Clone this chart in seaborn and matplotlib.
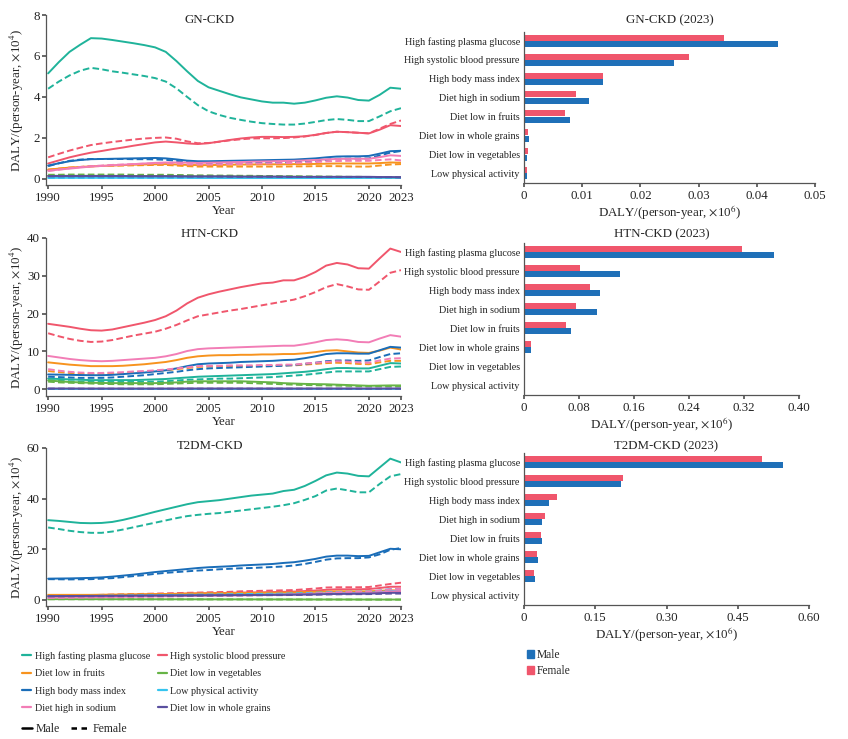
import matplotlib
matplotlib.use("Agg")
import matplotlib.pyplot as plt
from matplotlib.lines import Line2D
from matplotlib.patches import Patch
import pandas as pd
import seaborn as sns

years = list(range(1990, 2024))

risks = ["High fasting plasma glucose", "High systolic blood pressure",
         "Diet low in fruits", "Diet low in vegetables",
         "High body mass index", "Low physical activity",
         "Diet high in sodium", "Diet low in whole grains"]
risk_colors = ["#1fb39a", "#f0566c", "#f7931e", "#66b446",
               "#1a6db8", "#35c4ef", "#f27db6", "#5a4f9f"]

bar_labels = ["High fasting plasma glucose", "High systolic blood pressure",
              "High body mass index", "Diet high in sodium", "Diet low in fruits",
              "Diet low in whole grains", "Diet low in vegetables", "Low physical activity"]

# ---- GN-CKD, DALY x10^4 ----
gn_fpg_m = [5.15, 5.70, 6.20, 6.55, 6.87, 6.85, 6.78, 6.70, 6.62, 6.53,
            6.42, 6.20, 5.75, 5.25, 4.78, 4.47, 4.30, 4.13, 3.98, 3.88,
            3.78, 3.72, 3.72, 3.67, 3.72, 3.83, 3.96, 4.03, 3.97, 3.85,
            3.82, 4.10, 4.45, 4.40]
gn_fpg_f = [4.40, 4.75, 5.05, 5.28, 5.42, 5.35, 5.25, 5.18, 5.10, 5.02,
            4.92, 4.75, 4.42, 4.00, 3.60, 3.30, 3.12, 2.98, 2.88, 2.79,
            2.72, 2.68, 2.65, 2.65, 2.70, 2.78, 2.87, 2.92, 2.88, 2.82,
            2.82, 3.05, 3.30, 3.45]
gn_sbp_m = [0.75, 0.90, 1.05, 1.17, 1.28, 1.36, 1.45, 1.53, 1.62, 1.70,
            1.78, 1.82, 1.78, 1.73, 1.70, 1.74, 1.82, 1.90, 1.97, 2.02,
            2.05, 2.05, 2.04, 2.05, 2.08, 2.15, 2.24, 2.30, 2.28, 2.25,
            2.22, 2.40, 2.62, 2.58]
gn_sbp_f = [1.05, 1.22, 1.38, 1.52, 1.65, 1.73, 1.80, 1.86, 1.92, 1.97,
            2.00, 2.02, 1.96, 1.83, 1.74, 1.75, 1.81, 1.88, 1.93, 1.97,
            1.98, 1.98, 1.99, 2.02, 2.07, 2.14, 2.24, 2.30, 2.28, 2.25,
            2.22, 2.45, 2.68, 2.85]
gn_fru_m = [0.45, 0.50, 0.55, 0.58, 0.61, 0.63, 0.65, 0.67, 0.69, 0.70,
            0.71, 0.72, 0.70, 0.68, 0.67, 0.67, 0.68, 0.69, 0.70, 0.70,
            0.71, 0.71, 0.71, 0.72, 0.72, 0.73, 0.74, 0.75, 0.75, 0.75,
            0.75, 0.77, 0.80, 0.79]
gn_fru_f = [0.45, 0.50, 0.55, 0.58, 0.61, 0.63, 0.64, 0.65, 0.66, 0.67,
            0.68, 0.68, 0.65, 0.62, 0.60, 0.60, 0.60, 0.60, 0.60, 0.60,
            0.60, 0.60, 0.60, 0.61, 0.61, 0.62, 0.62, 0.62, 0.61, 0.60,
            0.60, 0.65, 0.70, 0.72]
gn_veg_m = [0.15, 0.15, 0.15, 0.15, 0.15, 0.15, 0.15, 0.14, 0.14, 0.14,
            0.14, 0.14, 0.13, 0.13, 0.12, 0.12, 0.12, 0.12, 0.11, 0.11,
            0.11, 0.10, 0.10, 0.10, 0.09, 0.09, 0.09, 0.08, 0.08, 0.08,
            0.07, 0.07, 0.06, 0.05]
gn_veg_f = [0.20, 0.20, 0.21, 0.21, 0.21, 0.21, 0.21, 0.21, 0.20, 0.20,
            0.20, 0.20, 0.19, 0.18, 0.17, 0.17, 0.16, 0.16, 0.15, 0.15,
            0.14, 0.14, 0.13, 0.13, 0.12, 0.12, 0.11, 0.11, 0.10, 0.10,
            0.09, 0.09, 0.08, 0.08]
gn_bmi_m = [0.65, 0.76, 0.86, 0.92, 0.96, 0.97, 0.98, 0.99, 1.00, 1.01,
            1.02, 1.00, 0.95, 0.89, 0.86, 0.86, 0.87, 0.88, 0.89, 0.90,
            0.91, 0.92, 0.93, 0.94, 0.97, 1.00, 1.05, 1.09, 1.10, 1.10,
            1.12, 1.23, 1.35, 1.37]
gn_bmi_f = [0.62, 0.76, 0.88, 0.94, 0.97, 0.97, 0.97, 0.97, 0.96, 0.96,
            0.95, 0.93, 0.88, 0.82, 0.78, 0.78, 0.78, 0.79, 0.79, 0.80,
            0.80, 0.81, 0.81, 0.82, 0.85, 0.88, 0.93, 0.98, 0.99, 0.99,
            1.00, 1.14, 1.28, 1.36]
gn_pa_m = [0.05, 0.05, 0.05, 0.05, 0.05, 0.05, 0.05, 0.05, 0.05, 0.05,
           0.05, 0.05, 0.05, 0.05, 0.04, 0.04, 0.04, 0.04, 0.04, 0.04,
           0.04, 0.04, 0.04, 0.04, 0.04, 0.04, 0.04, 0.04, 0.04, 0.04,
           0.05, 0.05, 0.05, 0.05]
gn_pa_f = [0.04, 0.04, 0.04, 0.04, 0.04, 0.04, 0.04, 0.04, 0.04, 0.04,
           0.04, 0.04, 0.04, 0.04, 0.04, 0.04, 0.04, 0.04, 0.04, 0.04,
           0.04, 0.04, 0.04, 0.04, 0.04, 0.04, 0.04, 0.04, 0.04, 0.04,
           0.05, 0.05, 0.05, 0.05]
gn_sod_m = [0.40, 0.45, 0.50, 0.55, 0.60, 0.63, 0.66, 0.69, 0.72, 0.75,
            0.78, 0.80, 0.80, 0.79, 0.78, 0.79, 0.80, 0.81, 0.82, 0.84,
            0.85, 0.86, 0.87, 0.88, 0.90, 0.92, 0.95, 0.97, 0.98, 0.98,
            0.98, 1.06, 1.15, 1.12]
gn_sod_f = [0.38, 0.45, 0.52, 0.58, 0.62, 0.65, 0.68, 0.70, 0.72, 0.74,
            0.75, 0.76, 0.74, 0.71, 0.70, 0.70, 0.71, 0.72, 0.73, 0.74,
            0.75, 0.76, 0.77, 0.78, 0.80, 0.82, 0.85, 0.87, 0.88, 0.88,
            0.88, 0.92, 0.95, 0.90]
gn_wg_m = [0.14, 0.14, 0.14, 0.14, 0.14, 0.14, 0.14, 0.14, 0.13, 0.13,
           0.13, 0.13, 0.13, 0.12, 0.12, 0.12, 0.12, 0.12, 0.11, 0.11,
           0.11, 0.11, 0.11, 0.10, 0.10, 0.10, 0.10, 0.10, 0.10, 0.10,
           0.10, 0.09, 0.09, 0.08]
gn_wg_f = [0.12, 0.12, 0.12, 0.12, 0.12, 0.12, 0.12, 0.12, 0.12, 0.12,
           0.12, 0.12, 0.11, 0.11, 0.11, 0.11, 0.11, 0.10, 0.10, 0.10,
           0.10, 0.10, 0.09, 0.09, 0.09, 0.09, 0.09, 0.09, 0.09, 0.09,
           0.09, 0.08, 0.08, 0.07]

# ---- HTN-CKD, DALY x10^4 ----
htn_fpg_m = [2.8, 2.7, 2.6, 2.5, 2.4, 2.4, 2.4, 2.4, 2.4, 2.5,
             2.6, 2.7, 2.9, 3.1, 3.3, 3.4, 3.5, 3.6, 3.7, 3.8,
             3.9, 4.0, 4.2, 4.4, 4.6, 4.9, 5.3, 5.6, 5.6, 5.5,
             5.5, 6.2, 6.9, 6.8]
htn_fpg_f = [2.4, 2.2, 2.1, 2.0, 1.9, 1.9, 1.9, 1.9, 1.9, 2.0,
             2.0, 2.1, 2.3, 2.5, 2.6, 2.7, 2.8, 2.8, 2.9, 3.0,
             3.1, 3.2, 3.4, 3.6, 3.8, 4.1, 4.4, 4.7, 4.7, 4.7,
             4.7, 5.3, 5.9, 6.0]
htn_sbp_m = [17.3, 16.9, 16.5, 16.0, 15.6, 15.5, 15.8, 16.4, 17.0, 17.6,
             18.3, 19.3, 20.8, 22.7, 24.2, 25.1, 25.8, 26.4, 27.0, 27.5,
             28.0, 28.2, 28.8, 28.8, 29.7, 31.0, 32.7, 33.4, 33.0, 32.0,
             31.9, 34.6, 37.2, 36.3]
htn_sbp_f = [14.8, 14.0, 13.3, 12.8, 12.5, 12.6, 13.0, 13.6, 14.2, 14.7,
             15.2, 16.0, 17.0, 18.2, 19.3, 19.8, 20.3, 20.8, 21.2, 21.7,
             22.2, 22.7, 23.2, 23.7, 24.6, 25.7, 27.0, 27.8, 27.2, 26.4,
             26.3, 28.5, 30.8, 31.5]
htn_fru_m = [7.1, 6.8, 6.5, 6.3, 6.1, 6.1, 6.1, 6.2, 6.4, 6.6,
             6.9, 7.2, 7.7, 8.3, 8.7, 8.9, 9.0, 9.0, 9.1, 9.1,
             9.2, 9.2, 9.3, 9.3, 9.5, 9.8, 10.2, 10.3, 10.0, 9.7,
             9.6, 10.2, 11.0, 10.5]
htn_fru_f = [4.8, 4.5, 4.3, 4.1, 4.1, 4.1, 4.2, 4.3, 4.5, 4.6,
             4.8, 5.0, 5.3, 5.6, 5.9, 6.0, 6.0, 6.1, 6.1, 6.1,
             6.2, 6.2, 6.3, 6.3, 6.5, 6.7, 6.9, 7.0, 6.9, 6.7,
             6.6, 7.1, 7.5, 7.5]
htn_veg_m = [2.3, 2.1, 1.9, 1.8, 1.7, 1.65, 1.6, 1.6, 1.6, 1.6,
             1.6, 1.7, 1.8, 2.0, 2.1, 2.1, 2.1, 2.1, 2.1, 2.0,
             1.9, 1.8, 1.6, 1.5, 1.4, 1.35, 1.3, 1.2, 1.1, 1.0,
             0.9, 0.95, 1.0, 1.0]
htn_veg_f = [2.0, 1.8, 1.7, 1.6, 1.5, 1.4, 1.35, 1.3, 1.3, 1.3,
             1.3, 1.4, 1.5, 1.6, 1.7, 1.7, 1.7, 1.7, 1.7, 1.6,
             1.5, 1.4, 1.3, 1.2, 1.1, 1.05, 1.0, 0.95, 0.9, 0.85,
             0.8, 0.8, 0.8, 0.8]
htn_bmi_m = [3.9, 3.85, 3.8, 3.75, 3.7, 3.7, 3.8, 4.0, 4.2, 4.4,
             4.7, 5.0, 5.5, 6.1, 6.6, 6.8, 6.9, 7.0, 7.2, 7.3,
             7.4, 7.5, 7.7, 7.8, 8.2, 8.7, 9.3, 9.5, 9.5, 9.4,
             9.4, 10.3, 11.2, 11.0]
htn_bmi_f = [3.3, 3.2, 3.1, 3.0, 3.0, 3.0, 3.1, 3.3, 3.5, 3.7,
             4.0, 4.3, 4.6, 5.0, 5.3, 5.5, 5.6, 5.7, 5.8, 5.9,
             6.0, 6.1, 6.2, 6.4, 6.7, 7.0, 7.4, 7.6, 7.6, 7.5,
             7.6, 8.5, 9.3, 9.5]
htn_pa_m = [0.06, 0.06, 0.06, 0.06, 0.06, 0.06, 0.06, 0.06, 0.06, 0.06,
            0.06, 0.06, 0.06, 0.06, 0.06, 0.06, 0.06, 0.06, 0.06, 0.06,
            0.06, 0.06, 0.06, 0.06, 0.06, 0.06, 0.06, 0.06, 0.06, 0.06,
            0.06, 0.06, 0.07, 0.07]
htn_pa_f = [0.05, 0.05, 0.05, 0.05, 0.05, 0.05, 0.05, 0.05, 0.05, 0.05,
            0.05, 0.05, 0.05, 0.05, 0.05, 0.05, 0.05, 0.05, 0.05, 0.05,
            0.05, 0.05, 0.05, 0.05, 0.05, 0.05, 0.05, 0.05, 0.05, 0.05,
            0.05, 0.05, 0.06, 0.06]
htn_sod_m = [8.8, 8.4, 8.0, 7.7, 7.5, 7.4, 7.5, 7.7, 7.9, 8.1,
             8.3, 8.7, 9.3, 10.1, 10.6, 10.8, 10.9, 11.0, 11.1, 11.2,
             11.3, 11.4, 11.5, 11.5, 11.9, 12.4, 13.0, 13.2, 13.0, 12.5,
             12.4, 13.4, 14.3, 13.9]
htn_sod_f = [5.3, 4.9, 4.6, 4.4, 4.3, 4.3, 4.4, 4.5, 4.7, 4.8,
             5.0, 5.2, 5.5, 5.8, 6.1, 6.2, 6.2, 6.3, 6.3, 6.3,
             6.4, 6.4, 6.5, 6.5, 6.8, 7.0, 7.2, 7.4, 7.3, 7.1,
             7.0, 7.6, 8.1, 8.2]
htn_wg_m = [0.18, 0.18, 0.18, 0.17, 0.17, 0.17, 0.17, 0.17, 0.17, 0.17,
            0.17, 0.17, 0.17, 0.18, 0.18, 0.18, 0.18, 0.18, 0.18, 0.18,
            0.18, 0.18, 0.18, 0.18, 0.18, 0.18, 0.18, 0.18, 0.18, 0.18,
            0.18, 0.18, 0.19, 0.19]
htn_wg_f = [0.15, 0.15, 0.15, 0.14, 0.14, 0.14, 0.14, 0.14, 0.14, 0.14,
            0.14, 0.14, 0.14, 0.15, 0.15, 0.15, 0.15, 0.15, 0.15, 0.15,
            0.15, 0.15, 0.15, 0.15, 0.15, 0.15, 0.15, 0.15, 0.15, 0.15,
            0.15, 0.15, 0.16, 0.16]

# ---- T2DM-CKD, DALY x10^4 ----
t2_fpg_m = [31.5, 31.2, 30.8, 30.4, 30.3, 30.4, 30.8, 31.6, 32.6, 33.7,
            34.8, 35.8, 36.8, 37.8, 38.6, 39.0, 39.4, 40.0, 40.6, 41.2,
            41.6, 42.0, 43.0, 43.5, 45.0, 47.0, 49.2, 50.3, 49.9, 49.0,
            48.8, 52.3, 55.8, 54.3]
t2_fpg_f = [28.6, 28.0, 27.3, 26.8, 26.5, 26.5, 27.0, 27.8, 28.7, 29.6,
            30.5, 31.4, 32.3, 33.1, 33.6, 34.0, 34.3, 34.8, 35.3, 35.8,
            36.3, 36.8, 37.4, 38.2, 39.5, 41.0, 43.2, 44.0, 43.3, 42.5,
            42.5, 45.8, 48.8, 49.7]
t2_sbp_m = [1.50, 1.55, 1.60, 1.65, 1.70, 1.75, 1.80, 1.90, 2.00, 2.10,
            2.20, 2.30, 2.40, 2.50, 2.60, 2.65, 2.70, 2.80, 2.90, 2.95,
            3.00, 3.10, 3.20, 3.30, 3.50, 3.70, 4.00, 4.20, 4.20, 4.20,
            4.30, 4.70, 5.20, 5.20]
t2_sbp_f = [1.70, 1.75, 1.80, 1.85, 1.90, 2.00, 2.10, 2.20, 2.30, 2.40,
            2.50, 2.60, 2.70, 2.80, 2.90, 3.00, 3.10, 3.20, 3.40, 3.50,
            3.60, 3.70, 3.80, 3.90, 4.20, 4.50, 4.90, 5.00, 5.00, 5.00,
            5.10, 5.70, 6.30, 6.80]
t2_fru_m = [2.00, 2.00, 2.00, 2.00, 2.00, 2.05, 2.10, 2.15, 2.20, 2.25,
            2.30, 2.35, 2.40, 2.50, 2.55, 2.60, 2.60, 2.65, 2.70, 2.75,
            2.80, 2.85, 2.90, 2.95, 3.10, 3.20, 3.30, 3.40, 3.40, 3.35,
            3.40, 3.60, 3.80, 3.70]
t2_fru_f = [1.90, 1.90, 1.90, 1.90, 1.90, 1.95, 2.00, 2.05, 2.10, 2.15,
            2.20, 2.25, 2.30, 2.35, 2.40, 2.45, 2.50, 2.50, 2.55, 2.60,
            2.60, 2.65, 2.70, 2.75, 2.85, 2.90, 3.00, 3.10, 3.05, 3.00,
            3.00, 3.20, 3.30, 3.30]
t2_veg_m = [0.30, 0.30, 0.30, 0.29, 0.29, 0.28, 0.28, 0.27, 0.27, 0.26,
            0.26, 0.25, 0.25, 0.24, 0.24, 0.23, 0.23, 0.22, 0.22, 0.21,
            0.21, 0.20, 0.20, 0.19, 0.19, 0.18, 0.18, 0.17, 0.17, 0.16,
            0.16, 0.15, 0.15, 0.15]
t2_veg_f = [0.27, 0.27, 0.27, 0.26, 0.26, 0.25, 0.25, 0.24, 0.24, 0.23,
            0.23, 0.22, 0.22, 0.21, 0.21, 0.20, 0.20, 0.19, 0.19, 0.18,
            0.18, 0.17, 0.17, 0.16, 0.16, 0.15, 0.15, 0.14, 0.14, 0.13,
            0.13, 0.12, 0.12, 0.12]
t2_bmi_m = [8.4, 8.45, 8.5, 8.6, 8.7, 8.9, 9.2, 9.6, 10.0, 10.5,
            11.0, 11.4, 11.8, 12.2, 12.6, 12.9, 13.1, 13.3, 13.6, 13.8,
            14.0, 14.2, 14.6, 14.9, 15.5, 16.2, 17.1, 17.5, 17.5, 17.3,
            17.4, 18.8, 20.2, 20.0]
t2_bmi_f = [8.2, 8.15, 8.1, 8.15, 8.2, 8.4, 8.6, 9.0, 9.4, 9.8,
            10.3, 10.7, 11.0, 11.3, 11.6, 11.8, 12.1, 12.3, 12.5, 12.6,
            12.8, 13.0, 13.2, 13.6, 14.2, 15.0, 15.9, 16.4, 16.5, 16.5,
            16.8, 18.0, 19.8, 20.5]
t2_pa_m = [1.30, 1.32, 1.35, 1.38, 1.40, 1.45, 1.50, 1.55, 1.60, 1.65,
           1.70, 1.75, 1.80, 1.85, 1.90, 1.92, 1.95, 1.97, 2.00, 2.03,
           2.05, 2.10, 2.15, 2.20, 2.30, 2.40, 2.55, 2.65, 2.70, 2.75,
           2.80, 3.10, 3.50, 3.60]
t2_pa_f = [1.50, 1.52, 1.55, 1.58, 1.60, 1.65, 1.70, 1.75, 1.80, 1.85,
           1.90, 1.95, 2.00, 2.05, 2.10, 2.15, 2.20, 2.25, 2.30, 2.35,
           2.40, 2.45, 2.50, 2.60, 2.70, 2.85, 3.00, 3.15, 3.20, 3.25,
           3.30, 3.70, 4.30, 4.20]
t2_sod_m = [1.00, 1.02, 1.05, 1.08, 1.10, 1.15, 1.20, 1.25, 1.30, 1.35,
            1.40, 1.45, 1.50, 1.55, 1.60, 1.65, 1.70, 1.75, 1.80, 1.85,
            1.90, 1.95, 2.00, 2.10, 2.20, 2.30, 2.45, 2.55, 2.55, 2.55,
            2.60, 2.90, 3.30, 3.50]
t2_sod_f = [0.80, 0.82, 0.85, 0.90, 0.95, 1.00, 1.05, 1.10, 1.15, 1.20,
            1.30, 1.35, 1.40, 1.50, 1.55, 1.60, 1.70, 1.75, 1.80, 1.90,
            2.00, 2.05, 2.10, 2.20, 2.40, 2.60, 2.80, 3.00, 3.10, 3.20,
            3.30, 3.70, 4.20, 4.30]
t2_wg_m = [1.50, 1.52, 1.54, 1.56, 1.58, 1.60, 1.62, 1.65, 1.68, 1.70,
           1.72, 1.75, 1.78, 1.80, 1.83, 1.85, 1.87, 1.90, 1.92, 1.95,
           1.97, 2.00, 2.05, 2.10, 2.15, 2.20, 2.30, 2.35, 2.40, 2.45,
           2.50, 2.65, 2.80, 2.80]
t2_wg_f = [1.40, 1.41, 1.42, 1.44, 1.46, 1.48, 1.50, 1.52, 1.55, 1.57,
           1.60, 1.62, 1.65, 1.67, 1.70, 1.72, 1.75, 1.77, 1.80, 1.82,
           1.85, 1.88, 1.90, 1.95, 2.00, 2.05, 2.15, 2.20, 2.25, 2.28,
           2.30, 2.40, 2.50, 2.50]

# ---- 2023 bars, DALY x10^6 (order of bar_labels) ----
gn_bar_m = [0.0437, 0.0258, 0.0136, 0.0112, 0.0079, 0.0008, 0.0005, 0.0005]
gn_bar_f = [0.0343, 0.0283, 0.0136, 0.0089, 0.0071, 0.0007, 0.0007, 0.0005]
htn_bar_m = [0.363, 0.139, 0.111, 0.106, 0.068, 0.010, 0.002, 0.001]
htn_bar_f = [0.317, 0.082, 0.096, 0.076, 0.061, 0.010, 0.001, 0.001]
t2_bar_m = [0.546, 0.204, 0.053, 0.037, 0.038, 0.029, 0.023, 0.001]
t2_bar_f = [0.500, 0.208, 0.070, 0.044, 0.035, 0.027, 0.021, 0.003]

gn_male = [gn_fpg_m, gn_sbp_m, gn_fru_m, gn_veg_m, gn_bmi_m, gn_pa_m, gn_sod_m, gn_wg_m]
gn_female = [gn_fpg_f, gn_sbp_f, gn_fru_f, gn_veg_f, gn_bmi_f, gn_pa_f, gn_sod_f, gn_wg_f]
htn_male = [htn_fpg_m, htn_sbp_m, htn_fru_m, htn_veg_m, htn_bmi_m, htn_pa_m, htn_sod_m, htn_wg_m]
htn_female = [htn_fpg_f, htn_sbp_f, htn_fru_f, htn_veg_f, htn_bmi_f, htn_pa_f, htn_sod_f, htn_wg_f]
t2_male = [t2_fpg_m, t2_sbp_m, t2_fru_m, t2_veg_m, t2_bmi_m, t2_pa_m, t2_sod_m, t2_wg_m]
t2_female = [t2_fpg_f, t2_sbp_f, t2_fru_f, t2_veg_f, t2_bmi_f, t2_pa_f, t2_sod_f, t2_wg_f]

male_color = "#1f70b8"
female_color = "#f0566c"
palette = dict(zip(risks, risk_colors))


def trend_frame(male, female):
    rows = []
    for risk, m, f in zip(risks, male, female):
        for sex, vals in (("Male", m), ("Female", f)):
            for y, v in zip(years, vals):
                rows.append({"year": y, "value": v, "risk": risk, "sex": sex})
    return pd.DataFrame(rows)


def bar_frame(male, female):
    rows = []
    for lab, m, f in zip(bar_labels, male, female):
        rows.append({"risk": lab, "sex": "Male", "value": m})
        rows.append({"risk": lab, "sex": "Female", "value": f})
    return pd.DataFrame(rows)


sns.set_theme(style="ticks")
plt.rcParams["font.family"] = ["Liberation Serif", "DejaVu Serif"]
plt.rcParams["mathtext.fontset"] = "stix"
plt.rcParams["axes.edgecolor"] = "#555555"
plt.rcParams["axes.linewidth"] = 0.9
plt.rcParams["xtick.color"] = "#555555"
plt.rcParams["ytick.color"] = "#555555"
plt.rcParams["xtick.labelcolor"] = "#222222"
plt.rcParams["ytick.labelcolor"] = "#222222"
plt.rcParams["xtick.major.size"] = 3
plt.rcParams["ytick.major.size"] = 3

W, H = 848, 739
fig = plt.figure(figsize=(W / 100, H / 100), dpi=100)


def px_axes(left, right, top, bottom):
    return fig.add_axes([left / W, 1 - bottom / H, (right - left) / W, (bottom - top) / H])


line_panels = [
    ("GN-CKD", gn_male, gn_female, (15, 185), (-0.3, 8), [0, 2, 4, 6, 8], 0.97),
    ("HTN-CKD", htn_male, htn_female, (238, 396), (-1.8, 40), [0, 10, 20, 30, 40], 1.025),
    ("T2DM-CKD", t2_male, t2_female, (448, 606), (-2.4, 60), [0, 20, 40, 60], 1.013),
]
ylab4 = "DALY/(person-year, $\\times$10$^4$)"
for title, male, female, (top, bot), ylim, yticks, ty in line_panels:
    ax = px_axes(46, 401, top, bot)
    df = trend_frame(male, female)
    sns.lineplot(data=df, x="year", y="value", hue="risk", style="sex",
                 hue_order=risks, style_order=["Male", "Female"],
                 palette=palette, dashes={"Male": "", "Female": (3.4, 1.7)},
                 linewidth=1.4, errorbar=None, legend=False, ax=ax)
    ax.set_xlim(1989.8, 2023)
    ax.set_ylim(*ylim)
    ax.set_xticks([1990, 1995, 2000, 2005, 2010, 2015, 2020, 2023])
    ax.set_yticks(yticks)
    ax.tick_params(axis="x", labelsize=9.3, pad=2)
    ax.tick_params(axis="y", labelsize=9.3, pad=1.5)
    ax.set_xlabel("Year", fontsize=9.3, labelpad=1)
    ax.set_ylabel(ylab4, fontsize=9.3)
    ax.yaxis.set_label_coords(-0.057, 0.5)
    ax.text(0.462, ty, title, transform=ax.transAxes, ha="center", va="center", fontsize=9.3)
    sns.despine(ax=ax)

bar_panels = [
    ("GN-CKD (2023)", gn_bar_m, gn_bar_f, 815, (32, 183), 0.05,
     [0, 0.01, 0.02, 0.03, 0.04, 0.05], ["0", "0.01", "0.02", "0.03", "0.04", "0.05"], 12),
    ("HTN-CKD (2023)", htn_bar_m, htn_bar_f, 799, (243, 395), 0.40,
     [0, 0.08, 0.16, 0.24, 0.32, 0.40], ["0", "0.08", "0.16", "0.24", "0.32", "0.40"], 9),
    ("T2DM-CKD (2023)", t2_bar_m, t2_bar_f, 809, (453, 605), 0.60,
     [0, 0.15, 0.30, 0.45, 0.60], ["0", "0.15", "0.30", "0.45", "0.60"], 7),
]
xlab6 = "DALY/(person-year, $\\times$10$^6$)"
for title, bm, bf, right, (top, bot), xmax, xt, xtl, tpad in bar_panels:
    ax = px_axes(524, right, top, bot)
    bdf = bar_frame(bm, bf)
    sns.barplot(data=bdf, y="risk", x="value", hue="sex", order=bar_labels,
                hue_order=["Female", "Male"],
                palette={"Male": male_color, "Female": female_color},
                width=0.68, gap=0.06, saturation=1, errorbar=None,
                linewidth=0, legend=False, ax=ax)
    ax.set_xlim(0, xmax)
    ax.set_ylim(7.52, -0.48)
    ax.set_xticks(xt)
    ax.set_xticklabels(xtl)
    ax.tick_params(axis="x", labelsize=9.3, pad=2)
    ax.tick_params(axis="y", labelsize=7.3, length=0, pad=3)
    ax.set_ylabel("")
    ax.set_xlabel(xlab6, fontsize=9.3, labelpad=1)
    ax.text(0.5, 1 + tpad / (bot - top), title, transform=ax.transAxes,
            ha="center", va="center", fontsize=9.3)
    sns.despine(ax=ax)

# risk legend (row-wise order in two columns)
col_order = [0, 2, 4, 6, 1, 3, 5, 7]
risk_handles = [Line2D([], [], color=risk_colors[i], lw=1.6) for i in col_order]
fig.legend(risk_handles, [risks[i] for i in col_order], loc="upper left",
           bbox_to_anchor=(22 / W, 1 - 651 / H), ncol=2, frameon=False,
           fontsize=7.3, handlelength=0.9, handletextpad=0.35, columnspacing=0.75,
           labelspacing=0.82, borderpad=0, borderaxespad=0)

fig.legend([Line2D([], [], color="black", lw=1.8)], ["Male"], loc="upper left",
           bbox_to_anchor=(22 / W, 1 - 723 / H), frameon=False, fontsize=8.5,
           handlelength=0.85, handletextpad=0.3, borderpad=0, borderaxespad=0)
fig.legend([Line2D([], [], color="black", lw=1.8, dashes=(2.2, 1.8))], ["Female"],
           loc="upper left", bbox_to_anchor=(71 / W, 1 - 723 / H), frameon=False,
           fontsize=8.5, handlelength=1.6, handletextpad=0.25, borderpad=0, borderaxespad=0)

fig.legend([Patch(color=male_color), Patch(color=female_color)], ["Male", "Female"],
           loc="upper left", bbox_to_anchor=(527 / W, 1 - 649 / H), frameon=False,
           fontsize=8.3, handlelength=0.6, handleheight=0.6, handletextpad=0.2,
           labelspacing=0.35, borderpad=0, borderaxespad=0)

fig.savefig("out.png", dpi=100)
